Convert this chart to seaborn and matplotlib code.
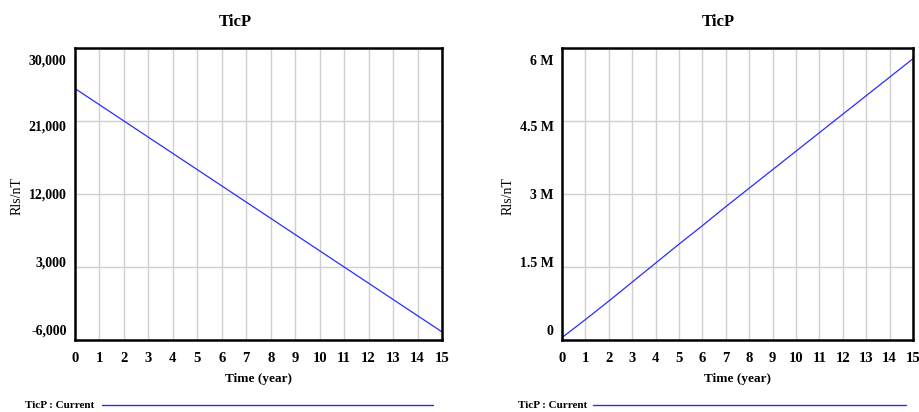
import numpy as np
import pandas as pd
import seaborn as sns
import matplotlib
matplotlib.use("Agg")
import matplotlib.pyplot as plt
import matplotlib.transforms as mtransforms

years = list(range(16))
ticp_left = [25000, 23000, 21000, 19000, 17000, 15000, 13000, 11000,
             9000, 7000, 5000, 3000, 1000, -1000, -3000, -5000]
ticp_right = [0.05e6, 0.42e6, 0.80e6, 1.19e6, 1.58e6, 1.97e6, 2.35e6, 2.74e6,
              3.12e6, 3.50e6, 3.88e6, 4.26e6, 4.64e6, 5.02e6, 5.40e6, 5.78e6]
left_yticks = [-6000, 3000, 12000, 21000, 30000]
left_yticklabels = ["-6,000", "3,000", "12,000", "21,000", "30,000"]
right_yticks = [0, 1.5e6, 3e6, 4.5e6, 6e6]
right_yticklabels = ["0", "1.5 M", "3 M", "4.5 M", "6 M"]
title = "TicP"
xlabel = "Time (year)"
ylabel = "Rls/nT"
legend_label = "TicP : Current"

sns.set_style("white")
plt.rcParams['font.family'] = ['Liberation Serif', 'DejaVu Serif']
plt.rcParams['font.weight'] = 'bold'
plt.rcParams['text.color'] = 'black'
plt.rcParams['xtick.color'] = 'black'
plt.rcParams['ytick.color'] = 'black'
plt.rcParams['axes.labelcolor'] = 'black'

fig = plt.figure(figsize=(9.19, 4.12), dpi=100)
W, H = 919, 412

def fx(px):
    return px / W

def fy(py):
    return 1 - py / H

panels = [
    dict(left=75, right=442, vals=ticp_left, yticks=left_yticks, ylabs=left_yticklabels,
         title_x=235, ylab_x=17, leg_text_x=25, leg_line=(102, 433)),
    dict(left=562, right=913, vals=ticp_right, yticks=right_yticks, ylabs=right_yticklabels,
         title_x=718, ylab_x=508, leg_text_x=518, leg_line=(593, 906)),
]

# vertical pixel shift of y tick labels (positive = up), bottom to top
label_shift_px = [10, 5, 0, -5, -12]

top, bottom = 48, 340
blue = "#2b2bff"
for p in panels:
    ax = fig.add_axes([fx(p['left']), fy(bottom), fx(p['right'] - p['left']), (bottom - top) / H])
    df = pd.DataFrame({"Time": years, "TicP": p['vals']})
    sns.lineplot(data=df, x="Time", y="TicP", ax=ax, color=blue, linewidth=0.9)
    ax.set_xlim(0, 15)
    ax.set_ylim(p['yticks'][0], p['yticks'][-1])
    ax.set_xticks(years)
    ax.set_xticklabels([str(y) for y in years], fontsize=10.5, fontweight='bold', color='black')
    ax.set_yticks(p['yticks'])
    ax.set_yticklabels(p['ylabs'], fontsize=10, fontweight='bold', color='black')
    ax.grid(True, color="#d0d0d0", linewidth=1)
    ax.set_axisbelow(True)
    for s in ax.spines.values():
        s.set_color("black")
        s.set_linewidth(1.8)
    ax.tick_params(axis='x', length=0, pad=9)
    ax.tick_params(axis='y', length=0, pad=6)
    for lab, sh in zip(ax.get_yticklabels(), label_shift_px):
        lab.set_transform(lab.get_transform() +
                          mtransforms.ScaledTranslation(0, sh / 100.0, fig.dpi_scale_trans))
    ax.set_xlabel("")
    ax.set_ylabel("")
    cx = (p['left'] + p['right']) / 2
    fig.text(fx(cx), fy(379), xlabel, ha='center', va='center', fontsize=9.5, fontweight='bold', color='black')
    fig.text(fx(p['title_x']), fy(22), title, ha='center', va='center', fontsize=12, fontweight='bold', color='black')
    fig.text(fx(p['ylab_x']), fy(196), ylabel, ha='center', va='center', rotation=90,
             fontsize=10, fontweight='normal', color='black')
    fig.text(fx(p['leg_text_x']), fy(405), legend_label, ha='left', va='center', fontsize=8,
             fontweight='bold', color='black')
    x0, x1 = p['leg_line']
    fig.add_artist(matplotlib.lines.Line2D([fx(x0), fx(x1)], [fy(405), fy(405)], color=blue, linewidth=1))

fig.savefig("out.png", dpi=100)
